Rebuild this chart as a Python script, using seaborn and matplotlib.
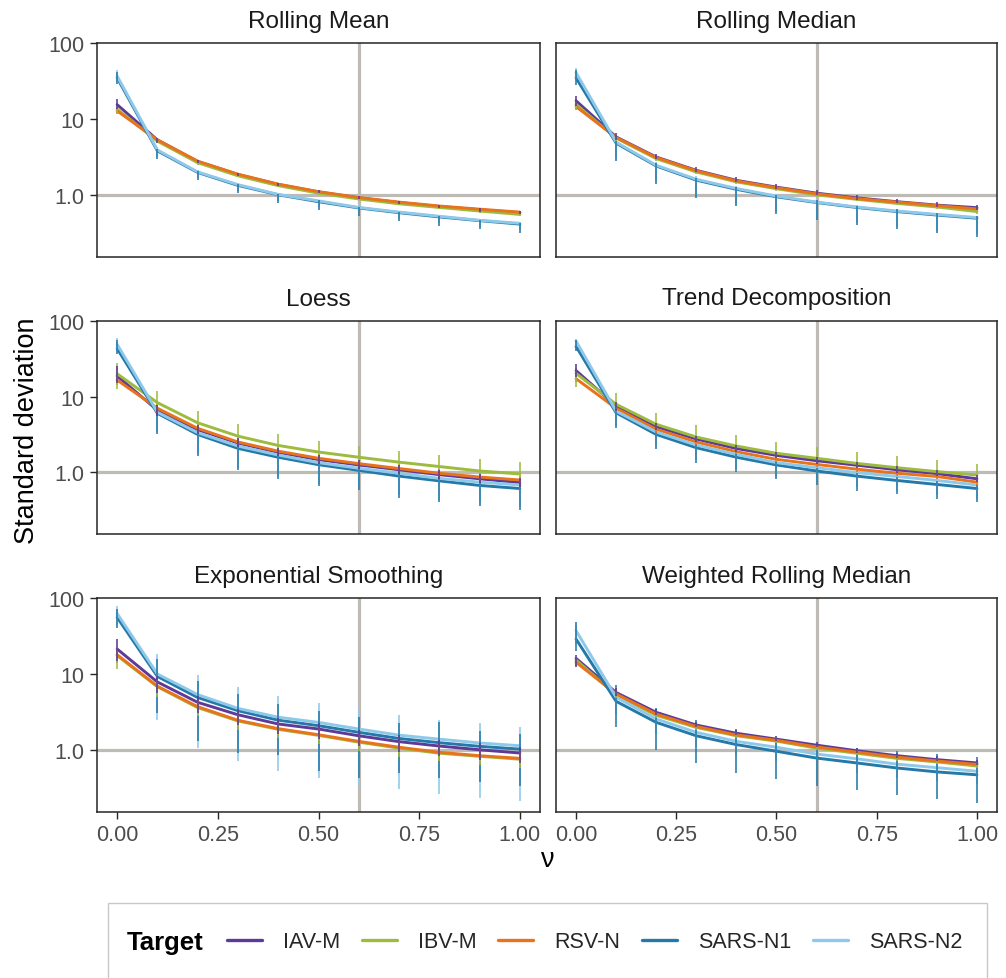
import matplotlib
matplotlib.use("Agg")
import matplotlib.pyplot as plt
from matplotlib.lines import Line2D
from matplotlib.patches import Rectangle
import numpy as np
import pandas as pd
import seaborn as sns

# ---------------------------------------------------------------- data
nu = [0.0, 0.1, 0.2, 0.3, 0.4, 0.5, 0.6, 0.7, 0.8, 0.9, 1.0]
targets = ["IAV-M", "IBV-M", "RSV-N", "SARS-N1", "SARS-N2"]
methods = ["Rolling Mean", "Rolling Median", "Loess", "Trend Decomposition",
           "Exponential Smoothing", "Weighted Rolling Median"]
target_colors = ["#5E3A98", "#9DBB3E", "#E8731C", "#2479A9", "#8FC9EA"]

rolling_mean_sd = {
    "IAV-M":   [15.5, 5.3, 2.75, 1.85, 1.37, 1.09, 0.91, 0.79, 0.70, 0.635, 0.58],
    "IBV-M":   [13.5, 5.1, 2.65, 1.78, 1.32, 1.05, 0.88, 0.76, 0.68, 0.61, 0.55],
    "RSV-N":   [12.8, 5.3, 2.78, 1.87, 1.38, 1.10, 0.92, 0.80, 0.71, 0.645, 0.59],
    "SARS-N1": [35, 3.8, 1.97, 1.33, 1.0, 0.81, 0.67, 0.58, 0.51, 0.455, 0.41],
    "SARS-N2": [37, 3.9, 2.0, 1.36, 1.01, 0.83, 0.68, 0.59, 0.52, 0.46, 0.42],
}
rolling_mean_lo = {
    "IAV-M":   [13.5, 4.9, 2.6, 1.76, 1.3, 1.04, 0.87, 0.75, 0.67, 0.6, 0.55],
    "IBV-M":   [11.5, 4.8, 2.5, 1.7, 1.26, 1.0, 0.84, 0.73, 0.65, 0.58, 0.53],
    "RSV-N":   [11.8, 5.0, 2.65, 1.8, 1.33, 1.06, 0.89, 0.77, 0.69, 0.62, 0.57],
    "SARS-N1": [29, 2.95, 1.55, 1.04, 0.77, 0.63, 0.52, 0.45, 0.39, 0.35, 0.31],
    "SARS-N2": [31, 3.2, 1.65, 1.12, 0.83, 0.68, 0.56, 0.48, 0.42, 0.38, 0.34],
}
rolling_mean_hi = {
    "IAV-M":   [18.5, 5.6, 2.9, 1.93, 1.43, 1.14, 0.95, 0.83, 0.73, 0.665, 0.61],
    "IBV-M":   [14.5, 5.3, 2.75, 1.84, 1.36, 1.08, 0.91, 0.79, 0.7, 0.63, 0.57],
    "RSV-N":   [13.8, 5.5, 2.88, 1.93, 1.43, 1.14, 0.95, 0.83, 0.73, 0.665, 0.61],
    "SARS-N1": [42, 4.0, 2.05, 1.38, 1.03, 0.84, 0.69, 0.6, 0.53, 0.47, 0.43],
    "SARS-N2": [44, 4.1, 2.1, 1.42, 1.06, 0.86, 0.71, 0.61, 0.54, 0.48, 0.44],
}

rolling_median_sd = {
    "IAV-M":   [17.4, 5.8, 3.15, 2.1, 1.55, 1.26, 1.05, 0.91, 0.81, 0.73, 0.675],
    "IBV-M":   [15.6, 5.6, 3.0, 2.0, 1.48, 1.2, 1.0, 0.87, 0.77, 0.69, 0.6],
    "RSV-N":   [14.6, 5.7, 3.1, 2.07, 1.52, 1.24, 1.03, 0.89, 0.8, 0.72, 0.65],
    "SARS-N1": [35, 4.8, 2.4, 1.56, 1.18, 0.94, 0.79, 0.68, 0.6, 0.54, 0.49],
    "SARS-N2": [41, 4.95, 2.45, 1.6, 1.21, 0.96, 0.8, 0.69, 0.61, 0.55, 0.5],
}
rolling_median_lo = {
    "IAV-M":   [15, 5.3, 2.95, 1.98, 1.46, 1.19, 1.0, 0.86, 0.77, 0.69, 0.63],
    "IBV-M":   [13, 5.2, 2.8, 1.88, 1.39, 1.13, 0.94, 0.82, 0.73, 0.65, 0.56],
    "RSV-N":   [13.2, 5.3, 2.9, 1.95, 1.43, 1.17, 0.97, 0.84, 0.76, 0.68, 0.61],
    "SARS-N1": [28, 2.8, 1.4, 0.92, 0.7, 0.56, 0.46, 0.4, 0.35, 0.31, 0.28],
    "SARS-N2": [33, 3.0, 1.5, 0.98, 0.74, 0.59, 0.49, 0.42, 0.37, 0.33, 0.3],
}
rolling_median_hi = {
    "IAV-M":   [20, 6.5, 3.45, 2.3, 1.7, 1.38, 1.15, 0.99, 0.88, 0.8, 0.74],
    "IBV-M":   [17.5, 6.0, 3.2, 2.12, 1.57, 1.27, 1.06, 0.92, 0.81, 0.73, 0.64],
    "RSV-N":   [16, 6.1, 3.3, 2.2, 1.61, 1.31, 1.09, 0.94, 0.84, 0.76, 0.69],
    "SARS-N1": [45, 5.2, 2.6, 1.68, 1.26, 1.0, 0.84, 0.72, 0.64, 0.57, 0.52],
    "SARS-N2": [47, 5.4, 2.7, 1.75, 1.3, 1.03, 0.86, 0.74, 0.65, 0.58, 0.53],
}

loess_sd = {
    "IAV-M":   [18.7, 6.6, 3.65, 2.43, 1.83, 1.47, 1.25, 1.08, 0.93, 0.82, 0.73],
    "IBV-M":   [20, 8.3, 4.5, 3.0, 2.26, 1.85, 1.58, 1.36, 1.19, 1.04, 0.95],
    "RSV-N":   [16.5, 7.0, 3.8, 2.51, 1.9, 1.53, 1.3, 1.12, 0.97, 0.865, 0.79],
    "SARS-N1": [43, 6.0, 3.16, 2.07, 1.58, 1.26, 1.06, 0.89, 0.77, 0.67, 0.61],
    "SARS-N2": [49, 6.2, 3.33, 2.22, 1.69, 1.34, 1.13, 0.97, 0.83, 0.74, 0.68],
}
loess_lo = {
    "IAV-M":   [15, 5.6, 3.2, 2.15, 1.62, 1.3, 1.1, 0.95, 0.82, 0.72, 0.64],
    "IBV-M":   [12.4, 6.8, 3.8, 2.55, 1.92, 1.57, 1.34, 1.15, 1.0, 0.88, 0.8],
    "RSV-N":   [14, 6.0, 3.3, 2.2, 1.65, 1.33, 1.13, 0.97, 0.84, 0.75, 0.68],
    "SARS-N1": [36, 3.2, 1.64, 1.07, 0.81, 0.66, 0.59, 0.46, 0.40, 0.36, 0.32],
    "SARS-N2": [40, 3.4, 1.75, 1.15, 0.87, 0.7, 0.6, 0.5, 0.43, 0.39, 0.35],
}
loess_hi = {
    "IAV-M":   [25, 7.8, 4.2, 2.8, 2.1, 1.7, 1.44, 1.24, 1.07, 0.94, 0.84],
    "IBV-M":   [28, 11.8, 6.4, 4.3, 3.2, 2.6, 2.25, 1.93, 1.7, 1.48, 1.35],
    "RSV-N":   [19.5, 8.0, 4.3, 2.85, 2.15, 1.73, 1.47, 1.27, 1.1, 0.98, 0.9],
    "SARS-N1": [55, 7.2, 3.8, 2.5, 1.9, 1.5, 1.27, 1.07, 0.92, 0.8, 0.73],
    "SARS-N2": [60, 7.5, 4.0, 2.6, 2.0, 1.57, 1.32, 1.12, 0.96, 0.85, 0.78],
}

trend_sd = {
    "IAV-M":   [22, 7.5, 4.0, 2.75, 2.06, 1.67, 1.42, 1.24, 1.08, 0.96, 0.82],
    "IBV-M":   [20.2, 7.9, 4.3, 2.92, 2.22, 1.78, 1.53, 1.31, 1.15, 1.02, 0.92],
    "RSV-N":   [17.2, 7.0, 3.7, 2.51, 1.87, 1.48, 1.27, 1.1, 0.97, 0.88, 0.74],
    "SARS-N1": [46, 6.1, 3.16, 2.11, 1.58, 1.25, 1.04, 0.89, 0.78, 0.69, 0.61],
    "SARS-N2": [54, 6.4, 3.4, 2.29, 1.72, 1.34, 1.15, 0.99, 0.88, 0.78, 0.68],
}
trend_lo = {
    "IAV-M":   [18, 6.5, 3.6, 2.5, 1.88, 1.53, 1.3, 1.14, 0.99, 0.88, 0.75],
    "IBV-M":   [13.5, 6.8, 3.8, 2.6, 1.98, 1.6, 1.38, 1.18, 1.04, 0.93, 0.84],
    "RSV-N":   [15.5, 6.3, 3.35, 2.3, 1.72, 1.36, 1.17, 1.01, 0.89, 0.81, 0.68],
    "SARS-N1": [40, 3.85, 2.0, 1.34, 1.01, 0.82, 0.67, 0.57, 0.51, 0.45, 0.41],
    "SARS-N2": [45, 4.1, 2.15, 1.45, 1.1, 0.87, 0.74, 0.64, 0.57, 0.5, 0.44],
}
trend_hi = {
    "IAV-M":   [27, 8.6, 4.5, 3.05, 2.3, 1.85, 1.58, 1.37, 1.2, 1.06, 0.91],
    "IBV-M":   [24, 11.2, 6.1, 4.15, 3.15, 2.5, 2.15, 1.85, 1.62, 1.44, 1.3],
    "RSV-N":   [19.5, 7.7, 4.05, 2.75, 2.05, 1.62, 1.39, 1.2, 1.06, 0.96, 0.81],
    "SARS-N1": [56, 6.8, 3.5, 2.34, 1.75, 1.38, 1.15, 0.98, 0.86, 0.76, 0.67],
    "SARS-N2": [58, 7.0, 3.7, 2.5, 1.88, 1.46, 1.25, 1.07, 0.95, 0.84, 0.73],
}

exp_smooth_sd = {
    "IAV-M":   [21.4, 7.85, 4.23, 2.9, 2.19, 1.88, 1.53, 1.28, 1.12, 1.0, 0.906],
    "IBV-M":   [17.5, 6.8, 3.6, 2.4, 1.86, 1.55, 1.26, 1.05, 0.9, 0.82, 0.75],
    "RSV-N":   [18.0, 6.9, 3.71, 2.45, 1.9, 1.58, 1.29, 1.08, 0.925, 0.835, 0.77],
    "SARS-N1": [56, 9.3, 4.9, 3.28, 2.46, 2.08, 1.70, 1.41, 1.24, 1.11, 1.02],
    "SARS-N2": [63, 10.0, 5.35, 3.52, 2.69, 2.30, 1.88, 1.56, 1.38, 1.23, 1.13],
}
exp_smooth_lo = {
    "IAV-M":   [15, 5.6, 3.1, 2.1, 1.6, 1.38, 1.12, 0.94, 0.82, 0.73, 0.66],
    "IBV-M":   [11.6, 5.0, 2.8, 1.85, 1.43, 1.2, 0.97, 0.81, 0.7, 0.63, 0.58],
    "RSV-N":   [14, 5.5, 3.0, 2.0, 1.55, 1.29, 1.05, 0.88, 0.76, 0.68, 0.63],
    "SARS-N1": [40, 3.1, 1.32, 0.92, 0.86, 0.53, 0.43, 0.5, 0.43, 0.37, 0.336],
    "SARS-N2": [45, 2.47, 1.07, 0.70, 0.53, 0.42, 0.347, 0.30, 0.26, 0.23, 0.21],
}
exp_smooth_hi = {
    "IAV-M":   [29, 9.5, 5.2, 3.5, 2.65, 2.25, 1.85, 1.55, 1.36, 1.21, 1.1],
    "IBV-M":   [21, 8.2, 4.3, 2.9, 2.25, 1.87, 1.52, 1.27, 1.09, 0.99, 0.9],
    "RSV-N":   [22, 8.4, 4.5, 3.0, 2.3, 1.92, 1.57, 1.31, 1.12, 1.01, 0.93],
    "SARS-N1": [72, 15.8, 8.2, 5.4, 4.0, 3.3, 2.73, 2.24, 2.3, 1.79, 1.61],
    "SARS-N2": [78, 18.4, 9.8, 6.67, 5.1, 4.1, 3.34, 2.9, 2.5, 2.24, 2.0],
}

weighted_median_sd = {
    "IAV-M":   [16.1, 5.7, 3.12, 2.12, 1.65, 1.38, 1.15, 0.97, 0.835, 0.74, 0.67],
    "IBV-M":   [15.3, 5.3, 2.85, 1.97, 1.53, 1.3, 1.05, 0.9, 0.77, 0.69, 0.61],
    "RSV-N":   [14.3, 5.45, 2.96, 2.03, 1.57, 1.33, 1.09, 0.93, 0.80, 0.71, 0.64],
    "SARS-N1": [29, 4.36, 2.3, 1.53, 1.17, 0.955, 0.777, 0.67, 0.575, 0.51, 0.467],
    "SARS-N2": [37.4, 4.92, 2.55, 1.7, 1.29, 1.08, 0.877, 0.76, 0.646, 0.58, 0.52],
}
weighted_median_lo = {
    "IAV-M":   [12.5, 5.2, 2.9, 1.98, 1.55, 1.3, 1.08, 0.91, 0.79, 0.7, 0.63],
    "IBV-M":   [13, 4.9, 2.65, 1.84, 1.43, 1.22, 0.98, 0.84, 0.72, 0.65, 0.57],
    "RSV-N":   [12.8, 5.0, 2.75, 1.9, 1.47, 1.25, 1.02, 0.87, 0.75, 0.67, 0.6],
    "SARS-N1": [20, 1.97, 1.0, 0.67, 0.5, 0.41, 0.335, 0.29, 0.25, 0.224, 0.2],
    "SARS-N2": [25, 3.0, 1.6, 1.1, 0.85, 0.7, 0.58, 0.5, 0.43, 0.39, 0.35],
}
weighted_median_hi = {
    "IAV-M":   [18, 6.6, 3.5, 2.35, 1.82, 1.52, 1.27, 1.07, 0.92, 0.82, 0.74],
    "IBV-M":   [17, 6.0, 3.2, 2.2, 1.7, 1.44, 1.17, 1.0, 0.86, 0.77, 0.69],
    "RSV-N":   [16, 5.9, 3.2, 2.17, 1.68, 1.42, 1.17, 1.0, 0.86, 0.76, 0.69],
    "SARS-N1": [48, 7.2, 3.6, 2.5, 1.88, 1.42, 1.17, 1.06, 0.95, 0.87, 0.8],
    "SARS-N2": [45, 6.0, 3.0, 2.0, 1.5, 1.24, 1.0, 0.87, 0.75, 0.67, 0.6],
}

panel_data = {
    "Rolling Mean": (rolling_mean_sd, rolling_mean_lo, rolling_mean_hi),
    "Rolling Median": (rolling_median_sd, rolling_median_lo, rolling_median_hi),
    "Loess": (loess_sd, loess_lo, loess_hi),
    "Trend Decomposition": (trend_sd, trend_lo, trend_hi),
    "Exponential Smoothing": (exp_smooth_sd, exp_smooth_lo, exp_smooth_hi),
    "Weighted Rolling Median": (weighted_median_sd, weighted_median_lo, weighted_median_hi),
}

x_ticks = [0.0, 0.25, 0.5, 0.75, 1.0]
x_tick_labels = ["0.00", "0.25", "0.50", "0.75", "1.00"]
y_ticks = [1.0, 10.0, 100.0]
y_tick_labels = ["1.0", "10", "100"]
ref_nu = 0.6
ref_sd = 1.0

# ---------------------------------------------------------------- long table
rows = []
for m in methods:
    sd, lo, hi = panel_data[m]
    for t in targets:
        for i, v in enumerate(nu):
            rows.append({"method": m, "Target": t, "nu": v,
                         "sd": sd[t][i], "lo": lo[t][i], "hi": hi[t][i]})
df = pd.DataFrame(rows)

# ---------------------------------------------------------------- style
sns.set_theme(style="white")
plt.rcParams["font.family"] = ["Liberation Sans", "DejaVu Sans"]
palette = dict(zip(targets, target_colors))

W, H = 1006, 979
fig = plt.figure(figsize=(W / 100, H / 100), dpi=100)

col_left = [97, 556]
col_width = [443, 441]
row_top = [44, 321.5, 599]
panel_h = 213.5
ref_color = "#BEBBB6"
spine_color = "#262626"
tick_text = "#4D4D4D"

for k, m in enumerate(methods):
    r, c = divmod(k, 2)
    left = col_left[c] / W
    bottom = 1 - (row_top[r] + panel_h) / H
    ax = fig.add_axes([left, bottom, col_width[c] / W, panel_h / H])
    sub = df[df["method"] == m]

    ax.axvline(ref_nu, color=ref_color, lw=2.3, zorder=1)
    ax.axhline(ref_sd, color=ref_color, lw=2.3, zorder=1)

    sns.lineplot(data=sub, x="nu", y="sd", hue="Target", hue_order=targets,
                 palette=palette, errorbar=None, legend=False, lw=2.1,
                 ax=ax, zorder=3)

    # interval bars, widest series first so narrower ones stay visible
    for t in reversed(targets):
        st = sub[sub["Target"] == t]
        ax.vlines(st["nu"], st["lo"], st["hi"], color=palette[t], lw=1.15,
                  zorder=4)

    ax.set_yscale("log")
    ax.set_ylim(0.153, 101)
    ax.set_xlim(-0.05, 1.05)
    ax.minorticks_off()
    ax.set_xlabel("")
    ax.set_ylabel("")
    for s in ax.spines.values():
        s.set_color(spine_color)
        s.set_linewidth(1.1)
        s.set_visible(True)

    ax.set_xticks(x_ticks)
    ax.set_xticklabels(x_tick_labels)
    ax.set_yticks(y_ticks)
    ax.set_yticklabels(y_tick_labels)
    ax.tick_params(axis="both", which="major", direction="out", length=5,
                   width=1.0, color=spine_color, labelcolor=tick_text,
                   labelsize=15.5, pad=4,
                   bottom=(r == 2), labelbottom=(r == 2),
                   left=(c == 0), labelleft=(c == 0))

    cx = (col_left[c] + col_width[c] / 2) / W
    fig.text(cx, 1 - (row_top[r] - 22) / H, m, ha="center", va="center",
             fontsize=17.5, color="#1A1A1A")

# axis titles
fig.text(27 / W, 1 - 431 / H, "Standard deviation", rotation=90,
         ha="center", va="center", fontsize=19.5, color="black")
fig.text(547 / W, 1 - 860 / H, "ν", ha="center", va="center",
         fontsize=19.5, color="black")

# legend box
fig.patches.append(Rectangle((108 / W, -0.05), (987 - 108) / W,
                             (1 - 904 / H) + 0.05,
                             transform=fig.transFigure, fill=False,
                             edgecolor="#C8C8C8", lw=1.0))
fig.text(127 / W, 1 - 943 / H, "Target", ha="left", va="center",
         fontsize=18.5, fontweight="bold", color="black")
handles = [Line2D([0], [0], color=palette[t], lw=2.4) for t in targets]
fig.legend(handles, targets, loc="center left",
           bbox_to_anchor=(227 / W, 1 - 943 / H), ncol=5, frameon=False,
           fontsize=15.5, handlelength=1.63, handletextpad=0.98,
           columnspacing=1.0, borderpad=0, borderaxespad=0)

fig.savefig("out.png", dpi=100)
